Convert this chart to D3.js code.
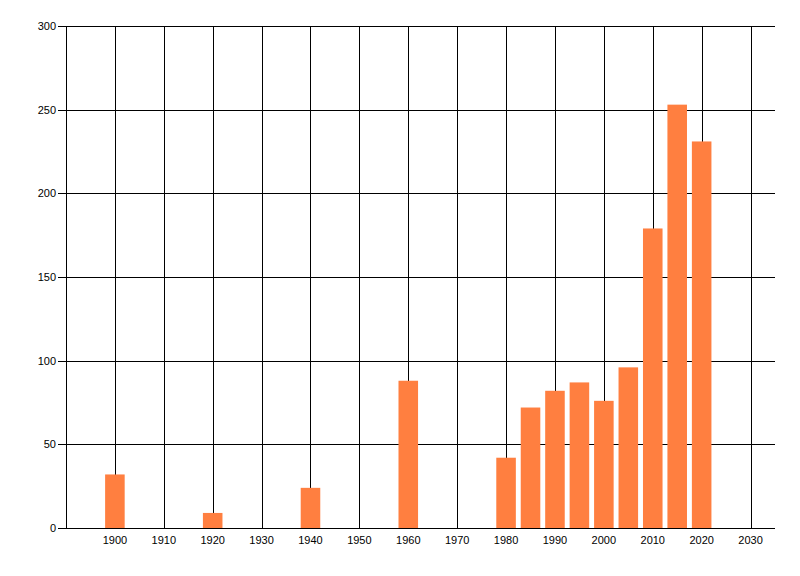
<!DOCTYPE html>
<html>
<head>
<meta charset="utf-8">
<script src="https://cdn.jsdelivr.net/npm/d3@7"></script>
<style>
  body { margin: 0; background: #fff; }
  text { font-family: "Liberation Sans", Arial, sans-serif; font-size: 11px; fill: #000; }
</style>
</head>
<body>
<script>
// chart size
var width = 800;
var height = 576;

// data
var years = [1900, 1920, 1940, 1960, 1980, 1985, 1990, 1995, 2000, 2005, 2010, 2015, 2020];
var counts = [32, 9, 24, 88, 42, 72, 82, 87, 76, 96, 179, 253, 231];
var xTicks = [1900, 1910, 1920, 1930, 1940, 1950, 1960, 1970, 1980, 1990, 2000, 2010, 2020, 2030];
var yTicks = [0, 50, 100, 150, 200, 250, 300];

var barColor = '#ff7f40';
var barYears = 4; // bar width in years

var x = d3.scaleLinear().domain([1890, 2035]).range([66, 775]);
var y = d3.scaleLinear().domain([0, 300]).range([528, 26]);

var svg = d3.select("body")
    .append("svg")
    .attr("width", width)
    .attr("height", height);

// horizontal grid + y ticks
svg.append("g")
    .selectAll("line")
    .data(yTicks)
    .enter()
    .append("line")
    .attr("x1", 58)
    .attr("x2", x.range()[1])
    .attr("y1", function (d) { return Math.round(y(d)) + 0.5; })
    .attr("y2", function (d) { return Math.round(y(d)) + 0.5; })
    .style("stroke", "#000")
    .style("stroke-width", 1);

// vertical grid
svg.append("g")
    .selectAll("line")
    .data(xTicks)
    .enter()
    .append("line")
    .attr("x1", function (d) { return Math.round(x(d)) + 0.5; })
    .attr("x2", function (d) { return Math.round(x(d)) + 0.5; })
    .attr("y1", y.range()[1])
    .attr("y2", y.range()[0])
    .style("stroke", "#000")
    .style("stroke-width", 1);

// left axis line
svg.append("line")
    .attr("x1", x.range()[0] + 0.5)
    .attr("x2", x.range()[0] + 0.5)
    .attr("y1", y.range()[1])
    .attr("y2", y.range()[0])
    .style("stroke", "#000");

// bars
svg.append("g")
    .selectAll("rect")
    .data(years)
    .enter()
    .append("rect")
    .attr("x", function (d) { return x(d - barYears / 2); })
    .attr("width", function () { return x(barYears) - x(0); })
    .attr("y", function (d, i) { return y(counts[i]); })
    .attr("height", function (d, i) { return y(0) - y(counts[i]); })
    .style("fill", barColor);

// bottom axis line on top of bars
svg.append("line")
    .attr("x1", x.range()[0])
    .attr("x2", x.range()[1])
    .attr("y1", Math.round(y(0)) + 0.5)
    .attr("y2", Math.round(y(0)) + 0.5)
    .style("stroke", "#000");

// y labels
svg.append("g")
    .selectAll("text")
    .data(yTicks)
    .enter()
    .append("text")
    .attr("x", 56)
    .attr("y", function (d) { return y(d) + 4; })
    .attr("text-anchor", "end")
    .text(function (d) { return d; });

// x labels
svg.append("g")
    .selectAll("text")
    .data(xTicks)
    .enter()
    .append("text")
    .attr("x", function (d) { return x(d); })
    .attr("y", 544)
    .attr("text-anchor", "middle")
    .text(function (d) { return d; });
</script>
</body>
</html>
